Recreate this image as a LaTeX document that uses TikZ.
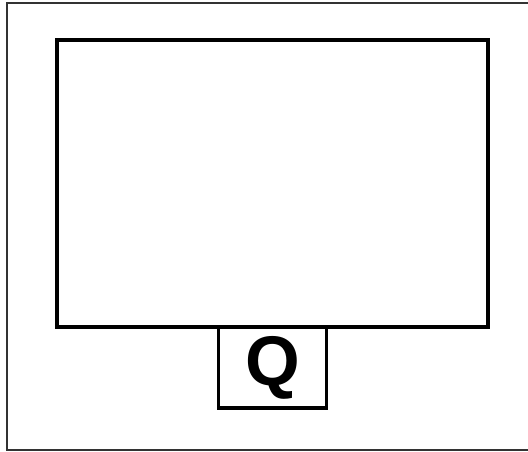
\documentclass[tikz,border=0pt]{standalone}
\usepackage{fontspec}
\setmainfont{Liberation Sans}
\usetikzlibrary{positioning}
\definecolor{FrameGray}{HTML}{333333}

\begin{document}
\begin{tikzpicture}[
    panel/.style={draw=black,line width=2.1pt,outer sep=0pt,inner sep=0pt},
    frame/.style={draw=FrameGray,line width=0.8pt}
  ]
    \useasboundingbox (0,0) rectangle (10.56,-9.04);
    \draw[frame] (10.56,-0.06) -- (0.14,-0.06) -- (0.14,-9.0) -- (10.56,-9.0);
    \node[panel,minimum width=8.62cm,minimum height=5.74cm] (screen) at (5.45,-3.67) {};
    \node[panel,minimum width=2.16cm,minimum height=1.62cm,font=\fontsize{40}{40}\selectfont\bfseries,below=0pt of screen] (qbox) {Q};
  \end{tikzpicture}
\end{document}
